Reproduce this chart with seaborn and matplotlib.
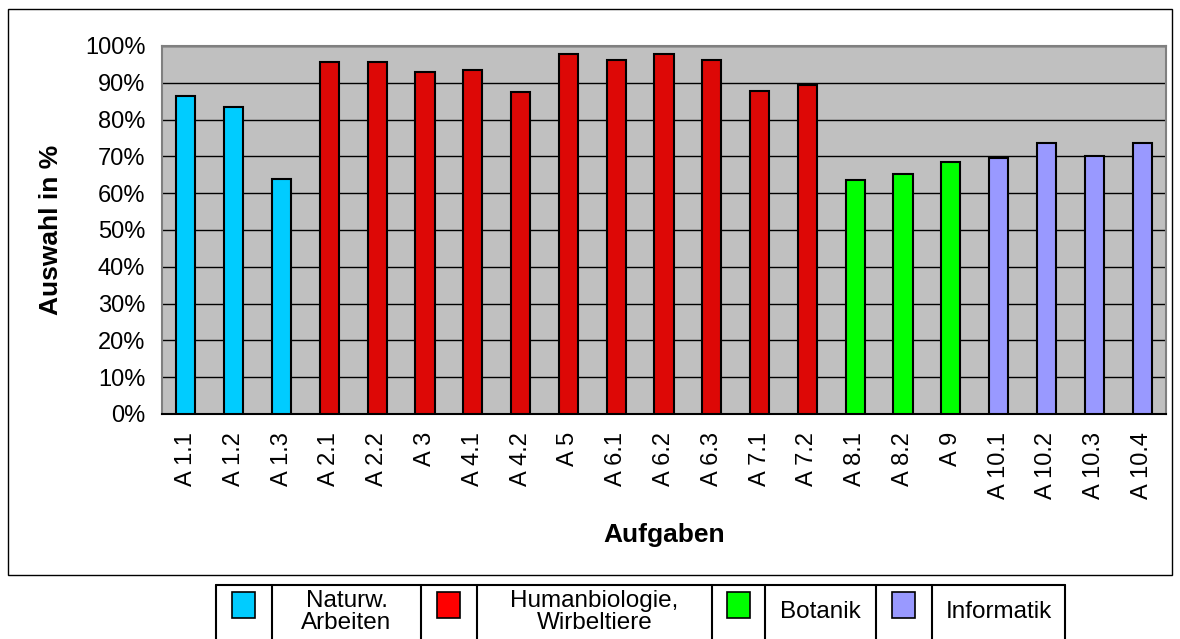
import numpy as np
import pandas as pd
import matplotlib.pyplot as plt
import matplotlib.patches as mpatches
import seaborn as sns

# data
aufgaben = ["A 1.1", "A 1.2", "A 1.3", "A 2.1", "A 2.2", "A 3", "A 4.1", "A 4.2",
            "A 5", "A 6.1", "A 6.2", "A 6.3", "A 7.1", "A 7.2", "A 8.1", "A 8.2",
            "A 9", "A 10.1", "A 10.2", "A 10.3", "A 10.4"]
auswahl = [86.4, 83.4, 63.9, 95.7, 95.7, 92.9, 93.4, 87.4,
           97.7, 96.2, 97.9, 96.2, 87.9, 89.3, 63.6, 65.3,
           68.5, 69.5, 73.6, 70.0, 73.6]
bereich = ["Naturw. Arbeiten"] * 3 + ["Humanbiologie, Wirbeltiere"] * 11 + \
          ["Botanik"] * 3 + ["Informatik"] * 4

legend_labels = ["Naturw.\nArbeiten", "Humanbiologie,\nWirbeltiere", "Botanik", "Informatik"]
bar_colors = {"Naturw. Arbeiten": "#00CCFF", "Humanbiologie, Wirbeltiere": "#DD0806",
              "Botanik": "#00FF00", "Informatik": "#9999FF"}
legend_colors = ["#00CCFF", "#FF0000", "#00FF00", "#9999FF"]

df = pd.DataFrame({"Aufgabe": aufgaben, "Auswahl": auswahl, "Bereich": bereich})

sns.set_style("white")
plt.rcParams["font.family"] = ["Liberation Sans", "DejaVu Sans"]
plt.rcParams["text.color"] = "black"
plt.rcParams["axes.labelcolor"] = "black"
plt.rcParams["xtick.color"] = "black"
plt.rcParams["ytick.color"] = "black"

W, H = 1180, 639
fig = plt.figure(figsize=(W / 100, H / 100), dpi=100)

# outer chart frame
fig.patches.append(mpatches.Rectangle((8 / W, 1 - 575 / H), (1172 - 8) / W, (575 - 9) / H,
                                      transform=fig.transFigure, fill=False,
                                      edgecolor="black", linewidth=1))

ax = fig.add_axes([162 / W, 1 - 414 / H, (1166 - 162) / W, (414 - 46) / H])
ax.set_facecolor("#C0C0C0")

sns.barplot(data=df, x="Aufgabe", y="Auswahl", hue="Bereich", palette=bar_colors,
            dodge=False, width=0.4, saturation=1, edgecolor="black", linewidth=1.5,
            legend=False, ax=ax, zorder=3)

ax.set_xlim(-0.5, len(aufgaben) - 0.5)
ax.set_ylim(0, 100)
ax.set_yticks(np.arange(0, 101, 10))
ax.set_yticklabels([f"{v}%" for v in range(0, 101, 10)], fontsize=17)
ax.yaxis.grid(True, color="black", linewidth=1, zorder=1)
ax.set_axisbelow(True)

ax.set_xticks(range(len(aufgaben)))
ax.set_xticklabels(aufgaben, rotation=90, fontsize=17)
ax.set_xticks(np.arange(-0.5, len(aufgaben), 1), minor=True)
ax.tick_params(axis="x", which="major", length=0, pad=13)
ax.tick_params(axis="x", which="minor", length=8, width=1, color="#404040", direction="out")
ax.tick_params(axis="y", length=7, width=1, direction="out", pad=5)

for side in ["top", "right", "left"]:
    ax.spines[side].set_color("#808080")
    ax.spines[side].set_linewidth(1.5)
ax.spines["bottom"].set_color("black")
ax.spines["bottom"].set_linewidth(1.5)

ax.set_xlabel("Aufgaben", fontsize=19, fontweight="bold", labelpad=17)
ax.set_ylabel("Auswahl in %", fontsize=19, fontweight="bold", labelpad=16)

# legend drawn as table below the chart frame
lax = fig.add_axes([0, 0, 1, 1])
lax.set_xlim(0, W)
lax.set_ylim(H, 0)
lax.axis("off")
edges = [216, 272, 421, 477, 712, 765, 876, 932, 1065]
top = 585
lax.plot([edges[0], edges[-1]], [top, top], color="black", linewidth=1.5)
for x in edges:
    lax.plot([x, x], [top, H + 5], color="black", linewidth=1.5)
for i in range(4):
    x0, x1, x2 = edges[2 * i], edges[2 * i + 1], edges[2 * i + 2]
    cx = (x0 + x1) / 2
    lax.add_patch(mpatches.Rectangle((cx - 12, 592), 23, 26, facecolor=legend_colors[i],
                                     edgecolor="black", linewidth=1.2))
    lax.text((x1 + x2) / 2, 612, legend_labels[i], ha="center", va="center",
             fontsize=17.5, linespacing=1.0)

fig.savefig("out.png", dpi=100)
